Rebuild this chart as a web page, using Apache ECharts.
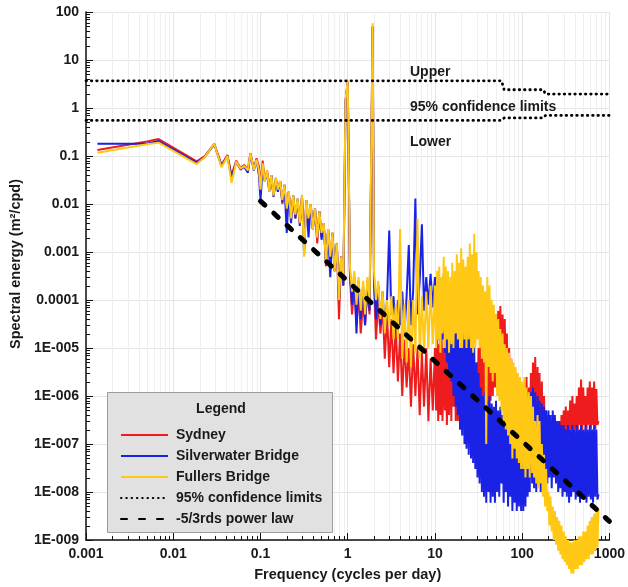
<html>
<head>
    <meta charset="utf-8">
    <title>Spectral energy</title>
    <script src="https://cdn.jsdelivr.net/npm/echarts@6/dist/echarts.min.js"></script>
    <style>
        body { margin: 0; background: #fff; }
        #main { width: 628px; height: 587px; }
    </style>
</head>
<body>
    <div id="main"></div>
    <script>
        // frequencies (cycles per day), shared by the three stations
        var freq = [
            0.00135, 0.005, 0.0068, 0.0186, 0.023, 0.0295, 0.0357, 0.0418, 0.0465, 0.0528, 0.059, 0.0648, 0.0717, 0.0765, 0.084, 0.09, 0.096,
            // 0.1 - 1
            0.1, 0.106, 0.112, 0.119, 0.126, 0.133, 0.141, 0.15, 0.158, 0.168, 0.178, 0.188, 0.2, 0.211, 0.224, 0.237, 0.251, 0.266, 0.282, 0.299,
            0.316, 0.335, 0.355, 0.376, 0.398, 0.422, 0.447, 0.473, 0.501, 0.531, 0.562, 0.596, 0.631, 0.668, 0.708, 0.75, 0.794, 0.841, 0.891, 0.944,
            // 1 - 10
            1, 1.06, 1.12, 1.19, 1.26, 1.33, 1.41, 1.5, 1.58, 1.68, 1.78, 1.93, 2, 2.11, 2.24, 2.37, 2.51, 2.66, 2.82, 2.99,
            3.16, 3.35, 3.55, 3.76, 3.98, 4.22, 4.47, 4.73, 5.01, 5.31, 5.62, 5.96, 6.31, 6.68, 7.08, 7.5, 7.94, 8.41, 8.91, 9.44,
            // 10 - 100
            10, 10.3, 10.6, 10.9, 11.2, 11.55, 11.9, 12.2, 12.6, 13, 13.3, 13.7, 14.1, 14.5, 15, 15.4, 15.8, 16.3, 16.8, 17.3,
            17.8, 18.3, 18.8, 19.4, 20, 20.5, 21.1, 21.8, 22.4, 23, 23.7, 24.4, 25.1, 25.9, 26.6, 27.4, 28.2, 29, 29.9, 30.7,
            31.6, 32.5, 33.5, 34.5, 35.5, 36.5, 37.6, 38.7, 39.8, 41, 42.2, 43.4, 44.7, 46, 47.3, 48.7, 50.1, 51.6, 53.1, 54.6,
            56.2, 57.9, 59.6, 61.3, 63.1, 64.9, 66.8, 68.8, 70.8, 72.9, 75, 77.2, 79.4, 81.8, 84.1, 86.6, 89.1, 91.7, 94.4, 97.2,
            // 100 - 750
            100, 103, 106, 109, 112, 115.5, 119, 122, 126, 130, 133, 137, 141, 145, 150, 154, 158, 163, 168, 173,
            178, 183, 188, 194, 200, 205, 211, 218, 224, 230, 237, 244, 251, 259, 266, 274, 282, 290, 299, 307,
            316, 325, 335, 345, 355, 365, 376, 387, 398, 410, 422, 434, 447, 460, 473, 487, 501, 516, 531, 546,
            562, 579, 596, 613, 631, 649, 668, 688, 708, 729, 750
        ]
        var sydney = [
            0.134, 0.2, 0.225, 0.077, 0.1, 0.18, 0.066, 0.105, 0.04, 0.08, 0.056, 0.065, 0.052, 0.115, 0.055, 0.09, 0.06,
            0.025, 0.08, 0.03, 0.05, 0.02, 0.04, 0.015, 0.03, 0.02, 0.03, 0.01, 0.025, 0.007, 0.018, 0.005, 0.015, 0.005, 0.012, 0.004, 0.014,
            0.0015, 0.012, 0.004, 0.01, 0.003, 0.008, 0.0015, 0.007, 0.002, 0.004, 0.0005, 0.003, 0.0007, 0.0025, 0.0004, 0.0015, 0.00004, 0.0008, 0.0002, 1.4,
            3.5, 3e-4, 5e-5, 2e-4, 3e-5, 1.5e-4, 2e-5, 1e-4, 3e-5, 1.5e-4, 5e-5, 50, 2e-4, 1.5e-5, 1e-4, 2e-5, 8e-5, 6e-6, 5e-5, 4e-6,
            4e-5, 3e-6, 3e-5, 2e-6, 2e-5, 1e-6, 1.5e-5, 1.5e-6, 1e-5, 6e-7, 1.2e-5, 1e-6, 1e-5, 4e-7, 8e-6, 6e-7, 1e-5, 3e-7, 6e-6, 5e-7,
            1e-5, 5e-7, 1.5e-5, 3e-7, 1.2e-5, 4e-7, 2e-5, 3e-7, 1e-5, 5e-7, 1.5e-5, 2.5e-7, 2e-5, 4e-7, 1.2e-5, 3e-7, 1.5e-5, 6e-7, 2.5e-5, 3e-7,
            3e-5, 3e-7, 1.5e-5, 2e-7, 8e-6, 2e-7, 6e-6, 1.5e-7, 6e-6, 2e-7, 5e-6, 1.5e-7, 4e-6, 3e-7, 5e-6, 2e-7, 3e-6, 1.5e-7, 5e-6, 3e-7,
            1e-5, 5e-7, 1.5e-5, 4e-7, 2e-5, 1e-6, 1.5e-5, 6e-7, 1e-5, 5e-7, 2e-5, 8e-7, 3e-5, 1e-6, 4e-5, 1.5e-6, 5e-5, 2e-6, 6e-5, 1e-6,
            7.5e-5, 1.5e-6, 5e-5, 1e-6, 4e-5, 8e-7, 2e-5, 6e-7, 1e-5, 4e-7, 6e-6, 3e-7, 4e-6, 2e-7, 3e-6, 1.5e-7, 2e-6, 1e-7, 1.5e-6, 1e-7,
            8e-7, 1e-7, 1.5e-6, 8e-8, 2.5e-6, 1e-7, 1.5e-6, 1.5e-7, 3e-6, 1e-7, 5e-6, 1.5e-7, 6.5e-6, 2e-7, 4e-6, 1.5e-7, 3e-6, 1e-7, 2e-6, 8e-8,
            1e-6, 6e-8, 5e-7, 5e-8, 4e-7, 4e-8, 3e-7, 3e-8, 4e-7, 4e-8, 3e-7, 3e-8, 2.5e-7, 4e-8, 3e-7, 5e-8, 4e-7, 6e-8, 5e-7, 8e-8,
            6e-7, 1e-7, 5e-7, 1.5e-7, 8e-7, 2e-7, 1e-6, 1.5e-7, 7e-7, 2e-7, 1e-6, 2e-7, 1.5e-6, 2.5e-7, 2.2e-6, 2e-7, 1.5e-6, 2.5e-7, 1e-6, 2e-7,
            1.5e-6, 2.5e-7, 2e-6, 2e-7, 1.5e-6, 2.5e-7, 2e-6, 2e-7, 1.4e-6, 2.5e-7, 3e-7
        ]
        var silverwater = [
            0.18, 0.18, 0.205, 0.072, 0.096, 0.175, 0.062, 0.1, 0.035, 0.076, 0.052, 0.06, 0.045, 0.11, 0.05, 0.085, 0.04,
            0.012, 0.06, 0.03, 0.045, 0.018, 0.04, 0.014, 0.035, 0.018, 0.03, 0.011, 0.025, 0.0025, 0.018, 0.004, 0.015, 0.005, 0.013, 0.0035, 0.015,
            0.0009, 0.012, 0.002, 0.01, 0.003, 0.008, 0.002, 0.007, 0.0018, 0.004, 0.0006, 0.003, 0.0003, 0.0025, 0.0004, 0.0015, 0.0001, 0.0008, 0.0002, 1.4,
            3.5, 4e-4, 8e-5, 3e-4, 2e-5, 2.5e-4, 4e-5, 2e-4, 3e-5, 2.5e-4, 6e-5, 50, 3e-4, 4e-5, 2e-4, 3e-5, 1.5e-4, 2e-5, 1e-4, 2.8e-3,
            5e-5, 1.2e-4, 2e-5, 1e-4, 3e-5, 1.5e-4, 2e-5, 1.2e-4, 1.4e-3, 3e-5, 1.5e-4, 1.3e-2, 5e-5, 2.5e-4, 3.8e-3, 6e-5, 3e-4, 8e-5, 3.5e-4, 7e-5,
            3e-4, 2e-5, 2.5e-4, 1.5e-5, 3e-4, 1e-5, 2e-4, 1.5e-5, 3.5e-4, 8e-6, 2e-4, 5e-6, 1.5e-4, 3e-6, 1e-4, 2e-6, 1.2e-4, 1e-6, 8e-5, 6e-7,
            6e-5, 4e-7, 5e-5, 2e-7, 4e-5, 1.5e-7, 6e-5, 1e-7, 3e-5, 8e-8, 2e-5, 6e-8, 3e-5, 5e-8, 1.5e-5, 4e-8, 1e-5, 3e-8, 5e-6, 2e-8,
            3e-6, 1.5e-8, 1.5e-6, 1e-8, 1e-6, 8e-9, 1.2e-6, 6e-9, 8e-7, 1e-8, 1e-6, 6e-9, 7e-7, 8e-9, 6e-7, 6e-9, 8e-7, 1e-8, 5e-7, 8e-9,
            6e-7, 1.5e-8, 4e-7, 6e-9, 5e-7, 1e-8, 6e-7, 5e-9, 4e-7, 8e-9, 5e-7, 4e-9, 3e-7, 6e-9, 4e-7, 4e-9, 3e-7, 5e-9, 2.5e-7, 4e-9,
            4e-7, 4e-9, 5e-7, 5e-9, 6e-7, 8e-9, 8e-7, 1e-8, 1.2e-6, 1.5e-8, 1.5e-6, 1.2e-8, 1.2e-6, 1e-8, 1e-6, 1.5e-8, 8e-7, 1e-8, 7e-7, 1.5e-8,
            6e-7, 2e-8, 5e-7, 1.5e-8, 5e-7, 2e-8, 4e-7, 1.2e-8, 5e-7, 2e-8, 4e-7, 1.5e-8, 3e-7, 1e-8, 3e-7, 1.2e-8, 2.5e-7, 8e-9, 2.5e-7, 1e-8,
            2e-7, 8e-9, 2.5e-7, 6e-9, 2e-7, 8e-9, 2.5e-7, 1e-8, 2e-7, 7e-9, 2.5e-7, 8e-9, 2e-7, 6e-9, 2.5e-7, 8e-9, 2e-7, 7e-9, 2.5e-7, 6e-9,
            2e-7, 8e-9, 2.5e-7, 7e-9, 2e-7, 6e-9, 2.5e-7, 8e-9, 2e-7, 7e-9, 9e-9
        ]
        var fullers = [
            0.117, 0.175, 0.19, 0.068, 0.095, 0.18, 0.058, 0.1, 0.0275, 0.077, 0.054, 0.062, 0.05, 0.114, 0.051, 0.085, 0.05,
            0.02, 0.07, 0.03, 0.05, 0.018, 0.04, 0.015, 0.035, 0.02, 0.03, 0.012, 0.025, 0.008, 0.018, 0.005, 0.015, 0.006, 0.013, 0.004, 0.015,
            0.0008, 0.012, 0.005, 0.01, 0.003, 0.008, 0.002, 0.007, 0.0025, 0.004, 0.0006, 0.003, 0.0008, 0.0025, 0.0004, 0.0015, 0.0001, 0.0008, 0.0003, 1.5,
            3.7, 5e-4, 1.5e-4, 4e-4, 8e-5, 3e-4, 6e-5, 2.5e-4, 5e-5, 3e-4, 1e-4, 58, 4e-4, 1e-4, 2.5e-4, 4e-5, 1.5e-4, 2e-5, 1e-4, 3e-5,
            1.2e-4, 1.5e-5, 8e-5, 1.5e-5, 3e-3, 6e-6, 8e-5, 5e-6, 1e-4, 4e-6, 1e-4, 8e-6, 5e-3, 6e-6, 1.2e-4, 8e-6, 1.5e-4, 1e-5, 2e-4, 1.2e-5,
            2e-4, 1e-5, 4e-4, 1.5e-5, 5e-4, 8e-6, 3e-4, 2e-5, 8e-4, 1e-5, 5e-4, 1.5e-5, 4e-4, 8e-6, 3e-4, 1.2e-5, 6e-4, 1e-5, 4e-4, 2e-5,
            9e-4, 1.5e-5, 6e-4, 1e-5, 1.2e-3, 1e-5, 7e-4, 1.5e-5, 5e-4, 1e-5, 8e-4, 1.5e-5, 1.5e-3, 1e-5, 9e-4, 8e-6, 2.4e-3, 1e-5, 1e-3, 1.5e-5,
            4e-4, 1e-5, 3e-4, 6e-6, 2e-4, 5e-6, 1.5e-4, 1e-7, 3e-4, 4e-6, 2e-4, 3e-6, 1e-4, 2e-6, 8e-5, 3e-6, 5e-5, 1e-6, 4e-5, 8e-7,
            2.5e-5, 5e-7, 2e-5, 3e-7, 1.2e-5, 2e-7, 1e-5, 1.5e-7, 8e-6, 1e-7, 6e-6, 5e-8, 5e-6, 8e-8, 4e-6, 5e-8, 3e-6, 4e-8, 2.5e-6, 3e-8,
            2e-6, 3e-8, 2.5e-6, 2e-8, 1.5e-6, 3e-8, 1.2e-6, 2e-8, 1e-6, 2.5e-8, 6e-7, 2e-8, 3e-7, 1.5e-8, 4e-7, 1.2e-8, 3e-7, 1.5e-8, 1e-7, 8e-9,
            6e-8, 5e-9, 3e-8, 4e-9, 1e-8, 2e-9, 8e-9, 1.5e-9, 5e-9, 1e-9, 4e-9, 8e-10, 3e-9, 6e-10, 2.5e-9, 5e-10, 2e-9, 4e-10, 1.5e-9, 3.5e-10,
            1.2e-9, 3e-10, 1e-9, 2.5e-10, 9e-10, 2e-10, 9e-10, 2e-10, 1e-9, 2.5e-10, 1e-9, 2.5e-10, 1.2e-9, 3e-10, 1.2e-9, 3e-10, 1.5e-9, 3.5e-10, 1.5e-9, 4e-10,
            2e-9, 4e-10, 2.5e-9, 5e-10, 3e-9, 5e-10, 3.5e-9, 6e-10, 4e-9, 7e-10, 4.5e-9
        ]
        // 95% confidence limits and the -5/3 power law
        var confFreq = [0.001, 58, 62, 175, 185, 1000]
        var confUpper = [3.68, 3.68, 2.4, 2.4, 1.95, 1.95]
        var confLower = [0.55, 0.55, 0.62, 0.62, 0.7, 0.7]
        var powerFreq = [0.1, 1000]
        var powerVal = [0.0115, 2.45e-9]
        // tick labels
        var xTickLabels = ['0.001', '0.01', '0.1', '1', '10', '100', '1000']
        var yTickLabels = ['1E-009', '1E-008', '1E-007', '1E-006', '1E-005', '0.0001', '0.001', '0.01', '0.1', '1', '10', '100']
        var minorSteps = [2, 3, 4, 5, 6, 7, 8, 9]

        var FONT = '"Liberation Sans", Arial, sans-serif'

        function pairs(xs, ys) {
            return xs.map((x, i) => [x, ys[i]])
        }

        // minor tick positions for the log axes
        var xMinor = [], yMinor = []
        for (var d = -3; d < 3; d++)
            minorSteps.forEach(m => xMinor.push([m * Math.pow(10, d), 1]))
        for (var d = -9; d < 2; d++)
            minorSteps.forEach(m => yMinor.push([1, m * Math.pow(10, d)]))

        var chart = echarts.init(document.getElementById('main'))
        var axisText = { fontFamily: FONT, fontWeight: 'bold', fontSize: 14, color: '#1a1a1a' }

        var option = {
            animation: false,
            backgroundColor: '#fff',
            textStyle: { fontFamily: FONT },
            grid: { left: 82, right: 14, top: 12, bottom: 41 },
            xAxis: {
                type: 'log', logBase: 10, min: 0.001, max: 1000, interval: 1, splitNumber: 6,
                name: 'Frequency (cycles per day)', nameLocation: 'middle', nameGap: 27,
                nameTextStyle: Object.assign({}, axisText, { fontSize: 14.5 }),
                axisLine: { lineStyle: { color: '#111', width: 1.5 } },
                axisTick: { inside: true, length: 7, lineStyle: { color: '#111' } },
                axisLabel: Object.assign({}, axisText, {
                    margin: 7,
                    formatter: v => xTickLabels[Math.round(Math.log10(v)) + 3]
                }),
                splitLine: { show: true, lineStyle: { color: '#e4e4e4' } }
            },
            yAxis: {
                type: 'log', logBase: 10, min: 1e-9, max: 100, interval: 1, splitNumber: 11,
                name: 'Spectral energy (m²/cpd)', nameLocation: 'middle', nameGap: 61,
                nameTextStyle: Object.assign({}, axisText, { fontSize: 14.5, padding: [0, 0, 0, 24] }),
                axisLine: { lineStyle: { color: '#111', width: 1.5 } },
                axisTick: { inside: true, length: 7, lineStyle: { color: '#111' } },
                axisLabel: Object.assign({}, axisText, {
                    margin: 7,
                    formatter: v => yTickLabels[Math.round(Math.log10(v)) + 9]
                }),
                splitLine: { show: true, lineStyle: { color: '#e4e4e4' } }
            },
            legend: {
                orient: 'vertical', left: 115, top: 423,
                itemWidth: 47, itemHeight: 14, itemGap: 7,
                selectedMode: false, z: 12,
                itemStyle: { color: 'rgba(0,0,0,0)', borderWidth: 0 },
                textStyle: { fontFamily: FONT, fontWeight: 'bold', fontSize: 14, color: '#1a1a1a', padding: [0, 0, 0, 3] },
                data: ['Sydney', 'Silverwater Bridge', 'Fullers Bridge', '95% confidence limits', '-5/3rds power law']
            },
            graphic: [
                { type: 'rect', left: 107, top: 392, z: 10, shape: { width: 225, height: 140 }, style: { fill: '#e1e1e1', stroke: '#9c9c9c', lineWidth: 1 } },
                { type: 'text', x: 221, y: 409, z: 11, style: { text: 'Legend', textAlign: 'center', textVerticalAlign: 'middle', font: 'bold 14px ' + FONT, fill: '#1a1a1a' } },
                { type: 'text', x: 410, y: 72, z: 11, style: { text: 'Upper', textAlign: 'left', textVerticalAlign: 'middle', font: 'bold 14px ' + FONT, fill: '#1a1a1a' } },
                { type: 'text', x: 410, y: 107, z: 11, style: { text: '95% confidence limits', textAlign: 'left', textVerticalAlign: 'middle', font: 'bold 14px ' + FONT, fill: '#1a1a1a' } },
                { type: 'text', x: 410, y: 142, z: 11, style: { text: 'Lower', textAlign: 'left', textVerticalAlign: 'middle', font: 'bold 14px ' + FONT, fill: '#1a1a1a' } }
            ],
            series: [
                {
                    // minor grid lines and ticks on the frequency axis
                    type: 'custom', silent: true, z: 1, clip: false,
                    data: xMinor,
                    renderItem: (params, api) => {
                        var b = api.coord([api.value(0), 1e-9])
                        var t = api.coord([api.value(0), 100])
                        var x = Math.round(b[0]) + 0.5
                        return {
                            type: 'group', children: [
                                { type: 'line', shape: { x1: x, y1: t[1], x2: x, y2: b[1] }, style: { stroke: '#efefef', lineWidth: 1 } },
                                { type: 'line', shape: { x1: x, y1: b[1], x2: x, y2: b[1] - 4 }, style: { stroke: '#111', lineWidth: 1 } }
                            ]
                        }
                    }
                },
                {
                    // minor ticks on the energy axis
                    type: 'custom', silent: true, z: 1, clip: false,
                    data: yMinor,
                    renderItem: (params, api) => {
                        var p = api.coord([0.001, api.value(1)])
                        var y = Math.round(p[1]) + 0.5
                        return { type: 'line', shape: { x1: p[0], y1: y, x2: p[0] + 4, y2: y }, style: { stroke: '#111', lineWidth: 1 } }
                    }
                },
                {
                    name: 'Sydney', type: 'line', symbol: 'none', clip: false,
                    data: pairs(freq, sydney),
                    lineStyle: { color: '#ee1c1c', width: 2 }
                },
                {
                    name: 'Silverwater Bridge', type: 'line', symbol: 'none', clip: false,
                    data: pairs(freq, silverwater),
                    lineStyle: { color: '#1a22e6', width: 2 }
                },
                {
                    name: 'Fullers Bridge', type: 'line', symbol: 'none', clip: false,
                    data: pairs(freq, fullers),
                    lineStyle: { color: '#ffc814', width: 2 }
                },
                {
                    name: '95% confidence limits', type: 'line', symbol: 'none',
                    data: pairs(confFreq, confUpper),
                    lineStyle: { color: '#000', width: 2.8, type: [0.5, 4.8], cap: 'round' }
                },
                {
                    name: '95% confidence limits', type: 'line', symbol: 'none',
                    data: pairs(confFreq, confLower),
                    lineStyle: { color: '#000', width: 2.8, type: [0.5, 4.8], cap: 'round' }
                },
                {
                    name: '-5/3rds power law', type: 'line', symbol: 'none',
                    data: pairs(powerFreq, powerVal),
                    lineStyle: { color: '#000', width: 5, type: [6, 12], cap: 'round' }
                }
            ]
        }
        chart.setOption(option)
    </script>
</body>
</html>
